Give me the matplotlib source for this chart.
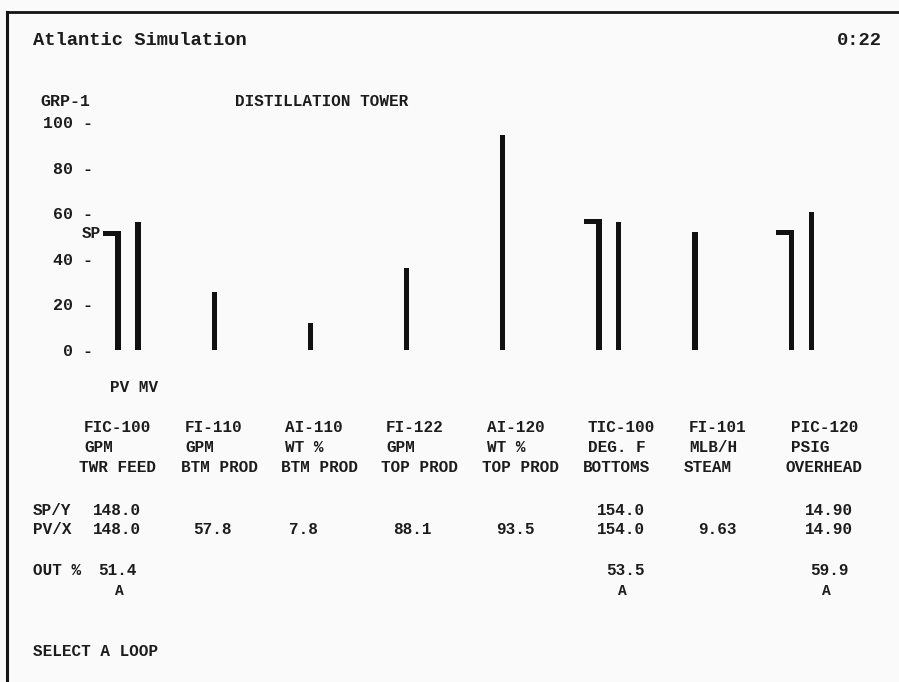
import matplotlib
matplotlib.use("Agg")
import matplotlib.pyplot as plt
import numpy as np

# ---------------- data ----------------
tags = ["FIC-100", "FI-110", "AI-110", "FI-122", "AI-120", "TIC-100", "FI-101", "PIC-120"]
units = ["GPM", "GPM", "WT %", "GPM", "WT %", "DEG. F", "MLB/H", "PSIG"]
descs = ["TWR FEED", "BTM PROD", "BTM PROD", "TOP PROD", "TOP PROD", "BOTTOMS", "STEAM", "OVERHEAD"]
pv_pct = [52.4, 25.2, 11.5, 36.0, 94.4, 57.4, 51.6, 52.8]
mv_pct = [56.3, None, None, None, None, 56.2, None, 60.7]
sp_pct = [52.4, None, None, None, None, 57.4, None, 52.8]
sp_txt = ["148.0", "", "", "", "", "154.0", "", "14.90"]
pv_txt = ["148.0", "57.8", "7.8", "88.1", "93.5", "154.0", "9.63", "14.90"]
out_txt = ["51.4", "", "", "", "", "53.5", "", "59.9"]
mode_txt = ["A", "", "", "", "", "A", "", "A"]
yticks = [0, 20, 40, 60, 80, 100]

# ---------------- layout (pixels) ----------------
W, H = 899, 682
FONT = "Liberation Mono"
INK = "#1c1c1c"
BG = "#fafafa"
col_left = [84, 185, 285, 386, 487, 588, 689, 791]
desc_left = [79, 181, 281, 381, 482, 583, 684, 786]
val_center = [117, 212, 303, 412, 515, 621, 717, 829]
out_center = [117.5, None, None, None, None, 625.5, None, 829]
mode_center = [119, None, None, None, None, 622, None, 826]

fig = plt.figure(figsize=(W / 100, H / 100), dpi=100, facecolor=BG)


def fx(x):
    return x / W


def fy(y):
    return 1 - y / H


def txt(x, y, s, size=12, ha="left", **kw):
    fig.text(fx(x), fy(y), s, ha=ha, va="baseline", fontsize=size,
             family=FONT, fontweight="bold", color=INK, **kw)


# frame (top and left edges visible)
fig.add_artist(plt.Line2D([fx(7), fx(W + 5)], [fy(11.5), fy(11.5)], color="#151515", lw=2.0,
                          transform=fig.transFigure))
fig.add_artist(plt.Line2D([fx(7), fx(7)], [fy(11.5), fy(H + 5)], color="#151515", lw=2.2,
                          transform=fig.transFigure))

# header
txt(33, 45, "Atlantic Simulation", size=13.5)
txt(882, 45, "0:22", size=13.5, ha="right")
txt(40, 106.5, "GRP-1", size=12)
txt(235, 106.5, "DISTILLATION TOWER", size=11.5)

# ---------------- bar axes ----------------
ax_l, ax_r, ax_t, ax_b = 100, 880, 122.5, 349.5
ax = fig.add_axes([fx(ax_l), fy(ax_b), (ax_r - ax_l) / W, (ax_b - ax_t) / H])
ax.set_facecolor("none")
for s in ax.spines.values():
    s.set_visible(False)

x0_px, step_px = 118.1, 96.15
ax.set_xlim((ax_l - x0_px) / step_px, (ax_r - x0_px) / step_px)
ax.set_ylim(0, 100)

px_unit = 1.0 / step_px
bar_w = 5.3 * px_unit
mv_off = 20 * px_unit
idx = np.arange(len(tags))

ax.bar(idx, pv_pct, width=bar_w, color="#111111", linewidth=0)
mv_idx = [i for i, v in enumerate(mv_pct) if v is not None]
ax.bar([i + mv_off for i in mv_idx], [mv_pct[i] for i in mv_idx], width=bar_w,
       color="#111111", linewidth=0)

# setpoint markers
sp_idx = [i for i, v in enumerate(sp_pct) if v is not None]
thick = 5.0 / 2.27
mark_w = 17.7 * px_unit
for i in sp_idx:
    ax.bar(i + bar_w / 2 - mark_w / 2, thick, bottom=sp_pct[i] - thick, width=mark_w,
           color="#111111", linewidth=0)

ax.text(sp_idx[0] + bar_w / 2 - mark_w - 2 * px_unit, sp_pct[0] - thick - 1.0, "SP",
        ha="right", va="baseline", fontsize=11.5, family=FONT, fontweight="bold", color=INK)

ax.set_xticks([])
ax.set_yticks(yticks)
ax.set_yticklabels([f"{v} -" for v in yticks], family=FONT, fontweight="bold",
                   fontsize=12, color=INK)
ax.tick_params(axis="y", length=0, pad=5)

# ---------------- table ----------------
txt(110, 391.5, "PV MV", size=11.5)
for i in range(len(tags)):
    txt(col_left[i], 432, tags[i], size=11.5)
    txt(col_left[i], 452, units[i], size=11.5)
    txt(desc_left[i], 472, descs[i], size=11.5)
    if sp_txt[i]:
        txt(val_center[i], 515, sp_txt[i], size=11.5, ha="center")
    txt(val_center[i], 534.5, pv_txt[i], size=11.5, ha="center")
    if out_txt[i]:
        txt(out_center[i], 575, out_txt[i], size=11.5, ha="center")
    if mode_txt[i]:
        txt(mode_center[i], 595, mode_txt[i], size=10.5, ha="center")

txt(33, 515, "SP/Y", size=11.5)
txt(33, 534.5, "PV/X", size=11.5)
txt(33, 575, "OUT %", size=11.5)
txt(33, 656, "SELECT A LOOP", size=11.5)

fig.savefig("out.png", dpi=100, facecolor=BG)
